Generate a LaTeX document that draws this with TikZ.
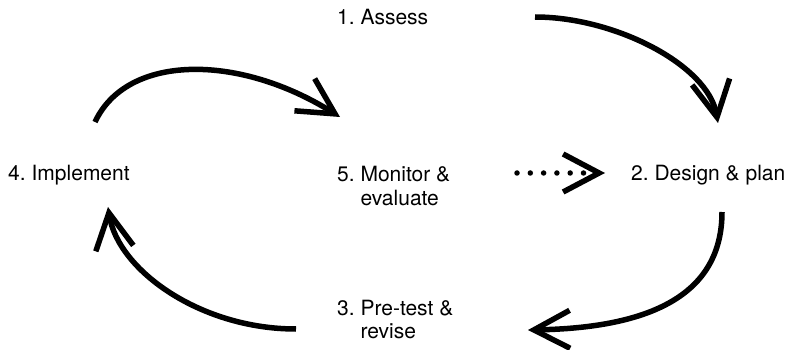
\documentclass[tikz,border=0pt]{standalone}
\usepackage{fontspec}
\setmainfont{TeX Gyre Heros}
\usetikzlibrary{arrows.meta}
\frenchspacing
% step number hanging in front of a two-line label
\newcommand{\steplbl}[3]{\begin{tabular}[t]{@{}l@{\ }l@{}}#1&#2\\&#3\end{tabular}}

\begin{document}
\begin{tikzpicture}[x=1pt,y=-1pt,
    >={Straight Barb[length=36pt,width=38pt]},
    stage/.style={anchor=base west,inner sep=0pt,font=\fontsize{21}{23.5}\selectfont},
    cycle/.style={->,line width=5.5pt},
    dots/.style={->,line width=5.5pt,line cap=round,dash pattern=on 0pt off 13.3pt}]
    \useasboundingbox (0,0) rectangle (790,350);
    % the stages
    \node[stage] (assess) at (337,25) {1. Assess};
    \node[stage] (design) at (631,181) {2. Design \& plan};
    \node[stage] (pretest) at (337,315) {\steplbl{3.}{Pre-test \&}{revise}};
    \node[stage] (implement) at (8,181) {4. Implement};
    \node[stage] (monitor) at (337,182) {\steplbl{5.}{Monitor \&}{evaluate}};
    % ends of the arrows
    \coordinate (a1) at (535,17);  \coordinate (a2) at (718,123);
    \coordinate (b1) at (722,212); \coordinate (b2) at (528,330);
    \coordinate (c1) at (296,329); \coordinate (c2) at (108,207);
    \coordinate (d1) at (95,122);  \coordinate (d2) at (340,117);
    \coordinate (e1) at (517,173); \coordinate (e2) at (605,173);
    % the cycle
    \draw[cycle] (a1) .. controls (615,17) and (708,65) .. (a2);
    \draw[cycle] (b1) .. controls (722,295) and (650,328) .. (b2);
    \draw[cycle] (c1) .. controls (200,329) and (118,270) .. (c2);
    \draw[cycle] (d1) .. controls (127,53.5) and (239,53.5) .. (d2);
    \draw[dots] (e1) -- (e2);
\end{tikzpicture}
\end{document}
